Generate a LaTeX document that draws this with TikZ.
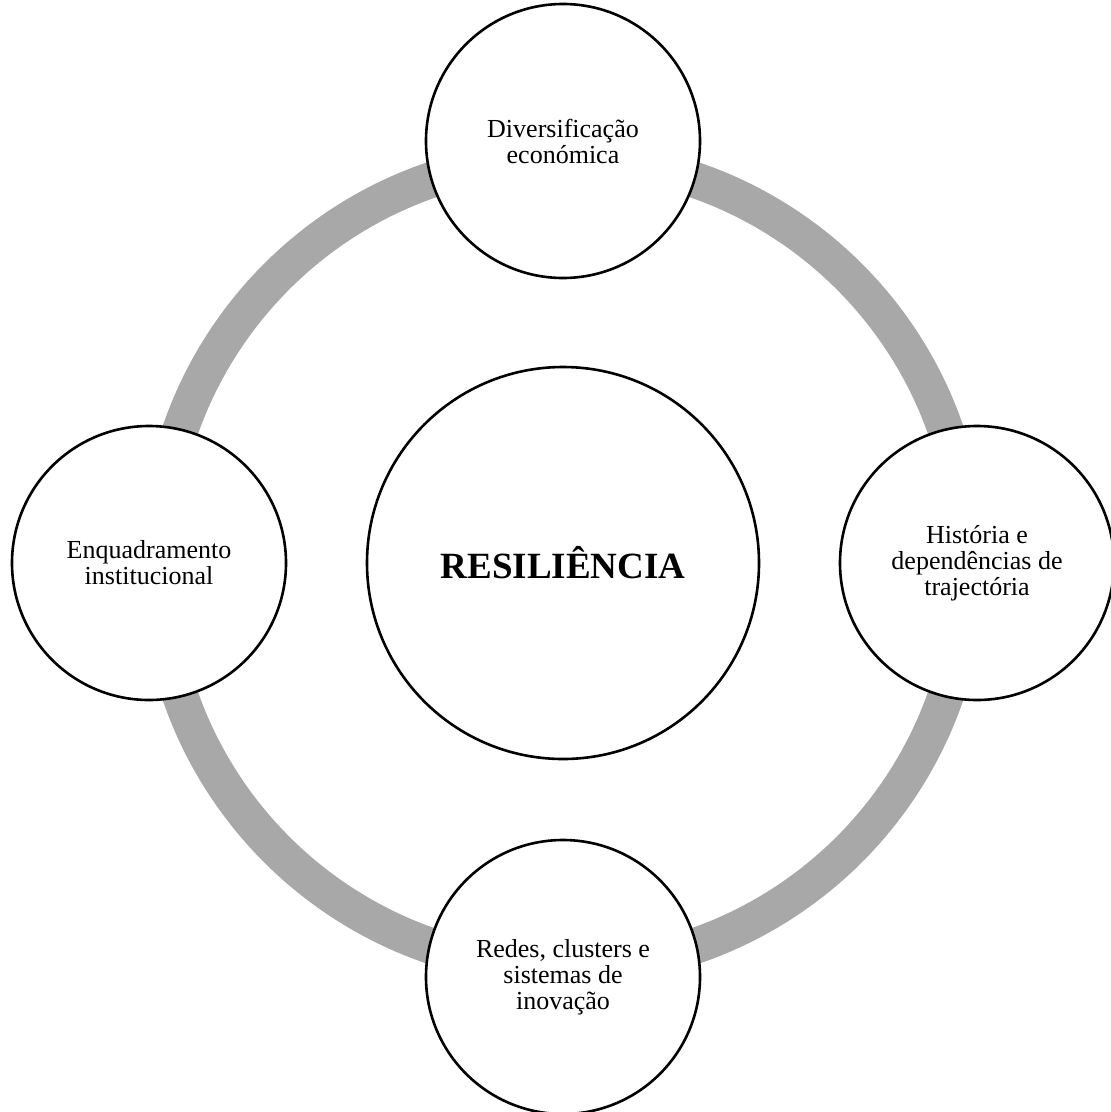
\documentclass[tikz,border=0pt]{standalone}
\usepackage{fontspec}
\setmainfont{Liberation Serif}
\definecolor{ringgray}{RGB}{168,168,168}
\tikzset{
  topic/.style={circle, draw=black, line width=2.6pt, fill=white,
    minimum size=274pt, inner sep=0pt, align=center,
    font=\fontsize{26}{26}\selectfont},
  core/.style={circle, draw=black, line width=2.6pt, fill=white,
    minimum size=392pt, inner sep=0pt, align=center,
    font=\bfseries\fontsize{37}{40}\selectfont},
  cycle ring/.style={draw=ringgray, line width=36pt}
}
\begin{document}
\begin{tikzpicture}[x=1pt, y=-1pt]
  \useasboundingbox (0,0) rectangle (1111,1112);
  \clip (0,0) rectangle (1111,1112);
  % centre point of the cycle
  \coordinate (c) at (563,563);
  % grey ring linking the four factors
  \draw[cycle ring] (c) circle[radius=405pt];
  % central concept
  \node[core] (res) at (c) {RESILIÊNCIA};
  % surrounding factors
  \node[topic] (div) at (563,141) {Diversificação\\económica};
  \node[topic] (hist) at (977,563) {História e\\dependências de\\trajectória};
  \node[topic] (redes) at (563,977) {Redes, clusters e\\sistemas de\\inovação};
  \node[topic] (inst) at (149,563) {Enquadramento\\institucional};
\end{tikzpicture}
\end{document}
